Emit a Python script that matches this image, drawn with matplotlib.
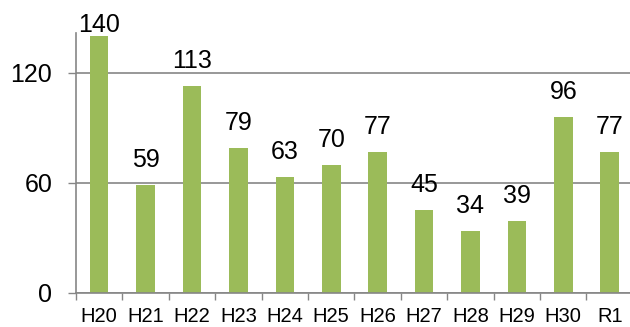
import numpy as np
import matplotlib.pyplot as plt

plt.rcParams['font.family'] = ['Liberation Sans', 'DejaVu Sans']

# yearly counts, Heisei 20 .. Reiwa 1
years = ['H20', 'H21', 'H22', 'H23', 'H24', 'H25', 'H26', 'H27', 'H28', 'H29', 'H30', 'R1']
counts = [140, 59, 113, 79, 63, 70, 77, 45, 34, 39, 96, 77]

BAR_COLOR = '#9BBB59'
LINE_COLOR = '#868686'

fig = plt.figure(figsize=(6.3, 3.27), dpi=100)
ax = fig.add_axes([0.1206, 0.104, 0.884, 0.795])

x = np.arange(len(years))
ax.bar(x, counts, width=0.4, color=BAR_COLOR, zorder=3)

ax.set_xlim(-0.5, len(years) - 0.5)
ax.set_ylim(0, 141.8)

ax.set_yticks([0, 60, 120])
ax.tick_params(axis='y', labelsize=18, length=6, width=1, color=LINE_COLOR, pad=11)
ax.yaxis.grid(True, color=LINE_COLOR, linewidth=1.2, zorder=0)

# category ticks sit between the bars, labels centred under them
ax.set_xticks(np.arange(len(years) + 1) - 0.5)
ax.set_xticklabels([])
ax.set_xticks(x, minor=True)
ax.set_xticklabels(years, minor=True, fontsize=14.5)
ax.tick_params(axis='x', which='major', length=5, width=1, color=LINE_COLOR)
ax.tick_params(axis='x', which='minor', length=0, pad=10)

for side in ('top', 'right'):
    ax.spines[side].set_visible(False)
for side in ('left', 'bottom'):
    ax.spines[side].set_color(LINE_COLOR)
    ax.spines[side].set_linewidth(1.2)
    ax.spines[side].set_zorder(4)

for xi, v in zip(x, counts):
    off = 13 if v < 130 else 3
    ax.annotate(str(v), (xi, v), xytext=(0, off), textcoords='offset points',
                ha='center', va='baseline', fontsize=18, annotation_clip=False)

fig.savefig('out.png', dpi=100)
